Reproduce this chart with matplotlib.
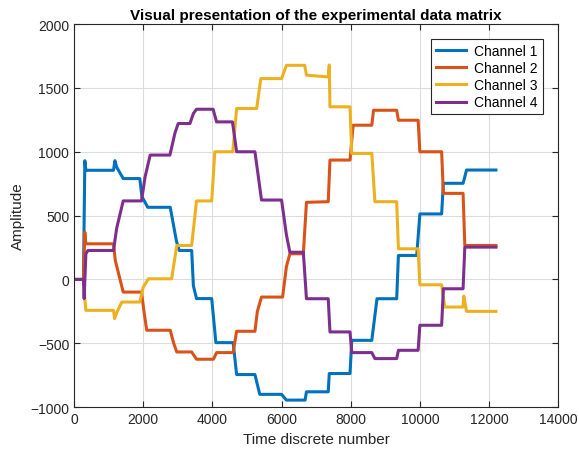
import matplotlib
matplotlib.use('Agg')
import matplotlib.pyplot as plt

# (time, amplitude) knots, one list per channel
ch1 = [(0, 0), (270, 0), (310, 930), (340, 855), (1140, 855), (1180, 930),
       (1230, 880), (1420, 790), (1900, 790), (1960, 650), (2130, 565),
       (2780, 565), (2960, 300), (3040, 227), (3400, 227), (3450, -50),
       (3540, -150), (3980, -150), (4100, -495), (4600, -495), (4700, -745),
       (5230, -745), (5370, -900), (6000, -900), (6140, -945), (6680, -945),
       (6720, -880), (7350, -880), (7380, -737), (7980, -737), (8030, -477),
       (8610, -477), (8760, -151), (9330, -151), (9380, 188), (9910, 188),
       (10000, 513), (10630, 513), (10680, 753), (11250, 753), (11350, 857),
       (12200, 857)]

ch2 = [(0, 0), (270, 0), (310, 370), (340, 279), (1140, 279), (1190, 150),
       (1420, -99), (1950, -99), (2020, -250), (2100, -398), (2780, -398),
       (2880, -500), (2970, -568), (3400, -568), (3540, -625), (4030, -625),
       (4120, -573), (4600, -573), (4700, -406), (5230, -406), (5300, -250),
       (5420, -138), (6030, -138), (6140, 100), (6240, 201), (6630, 201),
       (6720, 604), (7350, 609), (7400, 935), (7980, 935), (8070, 1208),
       (8610, 1208), (8660, 1325), (9330, 1325), (9380, 1247), (9950, 1247),
       (10000, 1000), (10630, 1000), (10680, 674), (11250, 674), (11300, 266),
       (12200, 266)]

ch3 = [(0, 0), (270, 0), (310, -150), (340, -242), (1140, -242), (1170, -307),
       (1250, -250), (1380, -177), (1900, -177), (2000, -60), (2150, 5),
       (2820, 5), (2970, 266), (3400, 266), (3540, 615), (3980, 615),
       (4070, 1000), (4590, 1000), (4700, 1339), (5280, 1339), (5400, 1573),
       (6000, 1573), (6140, 1677), (6670, 1677), (6720, 1600), (7350, 1586),
       (7380, 1680), (7400, 1352), (7980, 1352), (8030, 987), (8610, 987),
       (8700, 609), (9330, 609), (9380, 240), (9950, 240), (10000, -42),
       (10630, -42), (10720, -216), (11250, -216), (11270, -130), (11350, -250),
       (12200, -250)]

ch4 = [(0, 0), (270, 0), (290, -150), (340, 200), (400, 227), (1140, 227),
       (1230, 400), (1420, 615), (1950, 615), (2050, 800), (2200, 974),
       (2770, 974), (2920, 1150), (3010, 1221), (3350, 1221), (3450, 1300),
       (3540, 1333), (4020, 1333), (4120, 1234), (4580, 1234), (4700, 1000),
       (5230, 1000), (5420, 622), (6000, 622), (6140, 350), (6240, 213),
       (6630, 213), (6720, -151), (7350, -151), (7400, -411), (7980, -411),
       (8030, -573), (8610, -573), (8700, -620), (9330, -620), (9380, -555),
       (9950, -555), (10000, -359), (10630, -359), (10680, -73), (11250, -73),
       (11300, 253), (12200, 253)]

channels = [ch1, ch2, ch3, ch4]
names = ['Channel 1', 'Channel 2', 'Channel 3', 'Channel 4']
colors = ['#0072BD', '#D95319', '#EDB120', '#7E2F8E']

plt.rcParams['font.family'] = ['Liberation Sans', 'DejaVu Sans']

fig = plt.figure(figsize=(5.79, 4.56), dpi=100)
ax = fig.add_axes([0.128, 0.105, 0.836, 0.84])

for ch, name, c in zip(channels, names, colors):
    t, v = zip(*ch)
    ax.plot(t, v, color=c, linewidth=2.2, label=name)

ax.set_xlim(0, 14000)
ax.set_ylim(-1000, 2000)
ax.set_xticks(range(0, 14001, 2000))
ax.set_yticks(range(-1000, 2001, 500))
ax.grid(True, color='#dcdcdc', linewidth=0.8)
ax.set_axisbelow(True)
ax.tick_params(direction='in', labelsize=10, colors='#262626', length=4,
               top=True, right=True, labeltop=False, labelright=False)
for s in ax.spines.values():
    s.set_color('#262626')
    s.set_linewidth(0.8)

ax.set_title('Visual presentation of the experimental data matrix',
             fontsize=11, fontweight='bold', pad=4)
ax.set_xlabel('Time discrete number', fontsize=11, color='#262626')
ax.set_ylabel('Amplitude', fontsize=11, color='#262626')

leg = ax.legend(loc='upper right', fontsize=10, fancybox=False,
                framealpha=1, edgecolor='#262626', borderaxespad=1.1,
                handlelength=2.2, handletextpad=0.6, labelspacing=0.22,
                borderpad=0.35)
leg.get_frame().set_linewidth(0.8)

fig.savefig('out.png', dpi=100)
